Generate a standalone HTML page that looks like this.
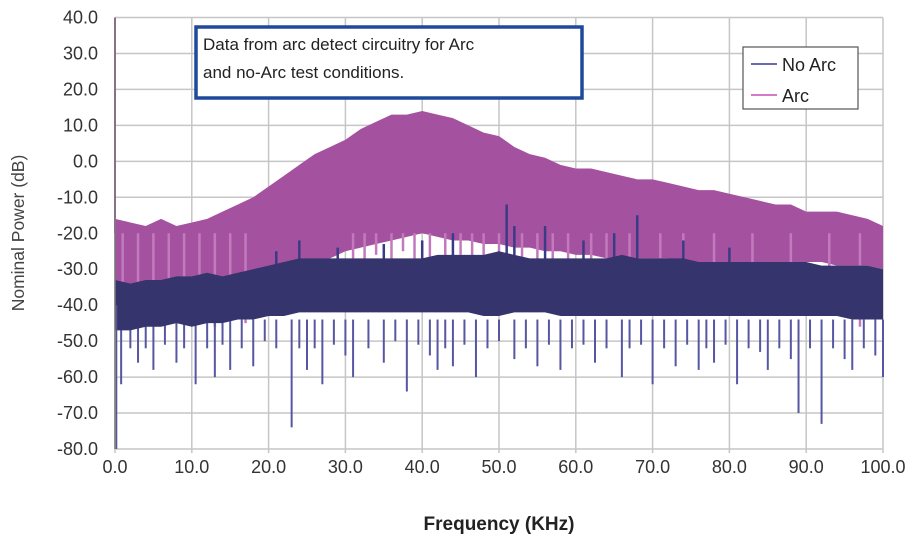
<!DOCTYPE html>
<html><head><meta charset="utf-8"><style>
body{margin:0;background:#fff;}
svg text{font-family:"Liberation Sans",sans-serif;}
</style></head><body>
<svg width="921" height="546" xmlns="http://www.w3.org/2000/svg">
<g id="grid"></g>
<g id="series"></g>
<g id="axes"></g>
<text x="24" y="233" font-size="17.5" fill="#444" text-anchor="middle" transform="rotate(-90 24 233)">Nominal Power (dB)</text>
<text x="499" y="530" font-size="19" font-weight="bold" fill="#222" text-anchor="middle">Frequency (KHz)</text>
<g>
<rect x="196" y="27" width="386" height="71" fill="#fff" stroke="#1f4a9a" stroke-width="3.5"/>
<text x="203" y="50" font-size="17" fill="#222">Data from arc detect circuitry for Arc</text>
<text x="203" y="78" font-size="17" fill="#222">and no-Arc test conditions.</text>
</g>
<g>
<rect x="743" y="47" width="115" height="62" fill="#fff" stroke="#555" stroke-width="1.2"/>
<line x1="751" y1="64" x2="777" y2="64" stroke="#6a6ab4" stroke-width="2"/>
<text x="782" y="71" font-size="18" fill="#222">No Arc</text>
<line x1="751" y1="95" x2="777" y2="95" stroke="#d27cc8" stroke-width="2"/>
<text x="782" y="102" font-size="18" fill="#222">Arc</text>
</g>
</svg>
<script>
const freqs=[0,2,4,6,8,10,12,14,16,18,20,22,24,26,28,30,32,34,36,38,40,42,44,46,48,50,52,54,56,58,60,62,64,66,68,70,72,74,76,78,80,82,84,86,88,90,92,94,96,98,100];
const arcMax=[-16,-17,-18,-16,-18,-17,-16,-14,-12,-10,-7,-4,-1,2,4,6,9,11,13,13,14,13,12,10,8,7,4,2,1,-1,-2,-2,-3,-4,-5,-5,-6,-7,-8,-8,-9,-10,-11,-12,-12,-14,-14,-14,-15,-16,-18];
const arcMin=[-40,-40,-40,-40,-40,-40,-40,-39,-38,-37,-35,-33,-31,-29,-27,-25,-24,-23,-22,-21,-20,-21,-22,-22,-23,-23,-24,-24,-25,-25,-26,-26,-27,-27,-27,-27,-27,-28,-28,-28,-28,-28,-28,-28,-28,-28,-28,-29,-29,-29,-30];
const noArcMax=[-33,-34,-33,-33,-32,-32,-31,-32,-31,-30,-29,-28,-27,-27,-27,-27,-27,-27,-27,-27,-27,-26,-26,-26,-26,-25,-26,-27,-27,-27,-27,-27,-27,-26,-27,-27,-27,-27,-28,-28,-28,-28,-28,-28,-28,-28,-29,-29,-29,-29,-30];
const noArcMin=[-47,-47,-46,-46,-45,-46,-45,-45,-44,-44,-43,-43,-42,-42,-42,-42,-42,-42,-42,-42,-42,-42,-42,-42,-43,-43,-42,-42,-42,-43,-43,-43,-43,-43,-43,-43,-43,-43,-43,-43,-43,-43,-43,-43,-43,-43,-43,-43,-44,-44,-44];
const dipFreqs=[0.8,2,3,4,5,6.5,8,9,10.5,12,13,14,15,16.5,18,19.5,21,23,24,25,26,27,28.5,30,31,33,35,36.5,38,39.5,41,42,43,44,45.5,47,48.5,50,52,53.5,55,56.5,58,59.5,61,62.5,64,66,67,68.5,70,71.5,73,74.5,76,77,78,79.5,81,82.5,84,85,86.5,88,89,90.5,92,93.5,95,96,97.5,99,100];
const dipVals=[-62,-52,-56,-52,-58,-51,-56,-52,-62,-52,-60,-51,-58,-52,-57,-50,-52,-74,-52,-58,-52,-62,-51,-54,-60,-52,-56,-50,-64,-51,-54,-58,-52,-57,-51,-60,-52,-50,-55,-52,-57,-51,-58,-52,-51,-56,-52,-60,-52,-51,-62,-52,-57,-51,-58,-52,-56,-51,-62,-52,-53,-58,-52,-55,-70,-52,-73,-52,-55,-58,-52,-54,-60];
const arcDipFreqs=[1,3,5,7,9,11,13,15,17,31,32.5,34,36,37.5,39,41,43,45,46.5,48,50,53,55,57,59,62,64,67,71,74,78,83,88,93,97];
const arcDipVals=[-45,-44,-45,-43,-45,-44,-46,-44,-45,-27,-30,-26,-29,-25,-27,-30,-28,-26,-30,-27,-29,-30,-28,-31,-30,-31,-30,-33,-32,-36,-34,-40,-38,-42,-46];
const spikeFreqs=[21,24,29,35,40,44,51,52,56,61,65,68,74,80];
const spikeVals=[-25,-22,-24,-23,-22,-20,-12,-18,-18,-22,-20,-15,-22,-24];
const yTicks=[40,30,20,10,0,-10,-20,-30,-40,-50,-60,-70,-80];
const xTicks=[0,10,20,30,40,50,60,70,80,90,100];
const X0=115,X1=883,Y0=17.5,Y1=449;
const xs=f=>X0+(f/100)*(X1-X0);
const ys=v=>Y0+(40-v)/120*(Y1-Y0);
const NS="http://www.w3.org/2000/svg";
const mk=(t,a,p)=>{const e=document.createElementNS(NS,t);for(const k in a)e.setAttribute(k,a[k]);p.appendChild(e);return e;};
const grid=document.getElementById('grid'),ser=document.getElementById('series'),ax=document.getElementById('axes');
yTicks.forEach(v=>{const l=mk('line',{x1:X0,x2:X1,y1:ys(v),y2:ys(v),stroke:'#c6c6c6','stroke-width':1.5},grid);


const t=mk('text',{x:98,y:ys(v)+6,'font-size':18,fill:'#333','text-anchor':'end'},ax);t.textContent=v.toFixed(1);

});
xTicks.forEach(f=>{const l=mk('line',{x1:xs(f),x2:xs(f),y1:Y0,y2:Y1+4,stroke:'#c6c6c6','stroke-width':1.5},grid);


const t=mk('text',{x:xs(f),y:473,'font-size':18,fill:'#333','text-anchor':'middle'},ax);t.textContent=f.toFixed(1);

});
const yl=mk('line',{x1:X0,x2:X0,y1:Y0,y2:Y1,stroke:'#777','stroke-width':1.5},ax);


function band(maxA,minA,fill,name){let d='M'+freqs.map((f,i)=>xs(f)+','+ys(maxA[i])).join('L');
for(let i=freqs.length-1;i>=0;i--)d+='L'+xs(freqs[i])+','+ys(minA[i]);d+='Z';
const p=mk('path',{d:d,fill:fill},ser);

}
band(arcMax,arcMin,'#a4529f','arc-band');
arcDipFreqs.forEach((f,i)=>{const l=mk('line',{x1:xs(f),x2:xs(f),y1:ys(-20),y2:ys(arcDipVals[i]),stroke:'#c27abd','stroke-width':2.5},ser);

});
const arcSp=mk('line',{x1:xs(0),x2:xs(0),y1:ys(40),y2:ys(-20),stroke:'#c25fb8','stroke-width':2},ser);


dipFreqs.forEach((f,i)=>{const l=mk('line',{x1:xs(f),x2:xs(f),y1:ys(-44),y2:ys(dipVals[i]),stroke:'#5656a2','stroke-width':2},ser);

});
spikeFreqs.forEach((f,i)=>{const l=mk('line',{x1:xs(f),x2:xs(f),y1:ys(-30),y2:ys(spikeVals[i]),stroke:'#3a3a86','stroke-width':2.5},ser);

});
band(noArcMax,noArcMin,'#35346c','no-arc-band');
const nsp=mk('line',{x1:xs(0.2),x2:xs(0.2),y1:ys(-40),y2:ys(-80),stroke:'#555590','stroke-width':1.5},ser);


</script>
</body></html>
